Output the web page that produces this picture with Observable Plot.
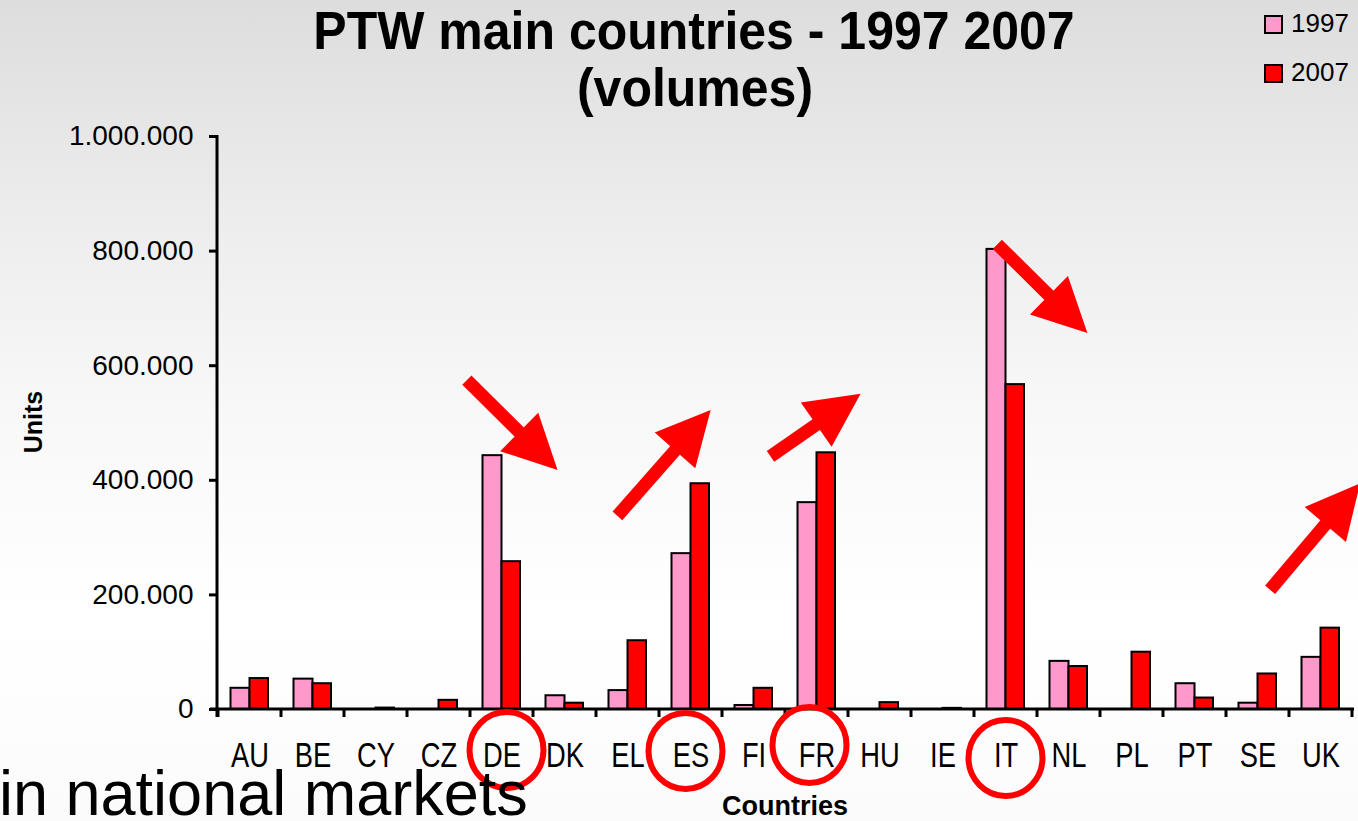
<!DOCTYPE html>
<html><head><meta charset="utf-8">
<script src="https://cdn.jsdelivr.net/npm/d3@7"></script>
<script src="https://cdn.jsdelivr.net/npm/@observablehq/plot@0.6"></script>
<style>
html,body{margin:0;padding:0;}
#chart{position:relative;width:1358px;height:821px;overflow:hidden;
background:linear-gradient(to bottom,#dddddd 0%,#ececec 25%,#f8f8f8 50%,#ffffff 75%,#fbfbfb 100%);
font-family:"Liberation Sans",Arial,sans-serif;}
</style></head><body><div id="chart"></div>
<script>
// ---- data ----
const countries = ["AU","BE","CY","CZ","DE","DK","EL","ES","FI","FR","HU","IE","IT","NL","PL","PT","SE","UK"];
const values1997 = [37000,53000,0,0,443000,24000,33000,272000,7000,361000,0,0,803000,84000,0,45000,11000,91000];
const values2007 = [54000,45000,2500,16000,258000,11000,120000,394000,37000,448000,12000,2000,567000,75000,100000,20000,62000,142000];
const yTicks = [0,200000,400000,600000,800000,1000000];
const years = ["1997","2007"];
const title = ["PTW main countries - 1997 2007","(volumes)"];
const circled = ["DE","ES","FR","IT"];
const circleShift = [5,-5,-7,0];
const circleDrop = [41,42,36,49];
// arrows: country, [band offset, value] for tail and tip
const arrowCountries = ["DE","ES","FR","IT","UK"];
const arrowTails = [[-0.05,574000],[-0.66,337000],[-0.23,441000],[0.37,811000],[-0.30,208000]];
const arrowTips  = [[1.39,417000],[0.82,522000],[1.20,550000],[1.80,656000],[1.13,394000]];

const colors = {"1997":"#ff99cc","2007":"#ff0000"};
const rows1997 = countries.map((c,i)=>({country:c, year:"1997", value:values1997[i]}));
const rows2007 = countries.map((c,i)=>({country:c, year:"2007", value:values2007[i]}));
const fmt = d3.formatLocale({decimal:",", thousands:".", grouping:[3], currency:["",""]}).format(",");

function frameMarks(index, {x, y}) {
  const g = d3.create("svg:g");
  const bw = x.bandwidth();
  const x0 = x(countries[0]);
  const xEnd = x(countries[countries.length-1]) + bw;
  const bounds = countries.map(c => x(c)).concat([xEnd]);
  g.append("line").attr("x1", x0-8).attr("x2", xEnd+2).attr("y1", y(0)).attr("y2", y(0))
    .attr("stroke","black").attr("stroke-width",3);
  g.append("line").attr("x1", x0-1).attr("x2", x0-1).attr("y1", y(1000000)-1).attr("y2", y(0)+8)
    .attr("stroke","black").attr("stroke-width",3);
  g.selectAll("line.b").data(bounds).join("line").attr("class","b")
    .attr("x1", d=>d).attr("x2", d=>d).attr("y1", y(0)).attr("y2", y(0)+8)
    .attr("stroke","black").attr("stroke-width",3);
  return g.node();
}

function annotations(index, {x, y}) {
  const g = d3.create("svg:g");
  const bw = x.bandwidth();
  circled.forEach((c,i) => {
    g.append("ellipse").attr("cx", x(c)+bw/2+circleShift[i]).attr("cy", y(0)+circleDrop[i])
      .attr("rx", 37).attr("ry", 38).attr("fill","none").attr("stroke","#ff0000").attr("stroke-width",6);
  });
  arrowCountries.forEach((c,i) => {
    const tx = x(c) + arrowTails[i][0]*bw, ty = y(arrowTails[i][1]);
    const px = x(c) + arrowTips[i][0]*bw, py = y(arrowTips[i][1]);
    const len = Math.hypot(px-tx, py-ty);
    const ux = (px-tx)/len, uy = (py-ty)/len;
    const nx = -uy, ny = ux;
    const H = 54, W = 27;
    const bx = px - H*ux, by = py - H*uy;
    g.append("line").attr("x1", tx).attr("y1", ty).attr("x2", bx+4*ux).attr("y2", by+4*uy)
      .attr("stroke","#ff0000").attr("stroke-width",13);
    g.append("polygon").attr("points", [[px,py],[bx+W*nx,by+W*ny],[bx-W*nx,by-W*ny]].map(p=>p.join(",")).join(" "))
      .attr("fill","#ff0000");
  });
  return g.node();
}

const barOpts = {x:"country", y:"value", stroke:"black", strokeWidth:2, filter: d => d.value > 0};
const plot = Plot.plot({
  width:1358, height:821,
  marginLeft:217, marginRight:6, marginTop:136, marginBottom:112,
  style:{background:"transparent", overflow:"visible", fontFamily:"Liberation Sans, Arial, sans-serif", color:"black"},
  x:{domain:countries, padding:0},
  y:{domain:[0,1000000]},
  marks:[
    Plot.axisY(yTicks, {tickFormat: fmt, tickSize:8, tickPadding:16, fontSize:28, strokeWidth:3, color:"black", label:null}),
    Plot.axisX({tickSize:0, tickPadding:33, fontSize:35, color:"black", label:null}),
    Plot.barY(rows1997, {...barOpts, fill: colors["1997"], insetLeft:12.5, insetRight:31.5}),
    Plot.barY(rows2007, {...barOpts, fill: colors["2007"], insetLeft:31.5, insetRight:13}),
    frameMarks,
    annotations
  ]
});

const svg = d3.select(plot);
// condense the category labels horizontally, as in the original
svg.selectAll('g[aria-label="x-axis tick label"] text').each(function() {
  const t = d3.select(this);
  t.attr("transform", (t.attr("transform") || "") + " scale(0.78,1)");
});
const ff = "Liberation Sans, Arial, sans-serif";
svg.append("text").text(title[0]).attr("transform","translate(694,49) scale(1,1.06)").attr("text-anchor","middle")
  .attr("font-size",50).attr("font-weight","bold").attr("font-family",ff).attr("fill","black");
svg.append("text").text(title[1]).attr("transform","translate(695,106) scale(1,1.06)").attr("text-anchor","middle")
  .attr("font-size",50).attr("font-weight","bold").attr("font-family",ff).attr("fill","black");
years.forEach((yr,i) => {
  svg.append("rect").attr("x",1265).attr("y",16+49*i).attr("width",17).attr("height",17)
    .attr("fill",colors[yr]).attr("stroke","black").attr("stroke-width",2);
  svg.append("text").text(yr).attr("x",1291).attr("y",32+49*i).attr("font-size",26).attr("text-anchor","start")
    .attr("font-family",ff).attr("fill","black");
});
svg.append("text").text("Units").attr("transform","translate(42,422) rotate(-90)").attr("text-anchor","middle")
  .attr("font-size",25).attr("font-weight","bold").attr("font-family",ff).attr("fill","black");
svg.append("text").text("Countries").attr("x",785).attr("y",815).attr("text-anchor","middle")
  .attr("font-size",27).attr("font-weight","bold").attr("font-family",ff).attr("fill","black");
svg.append("text").text("in national markets").attr("x",-1).attr("y",815).attr("text-anchor","start")
  .attr("font-size",63).attr("font-family",ff).attr("fill","black");

document.getElementById("chart").appendChild(plot);
</script></body></html>
